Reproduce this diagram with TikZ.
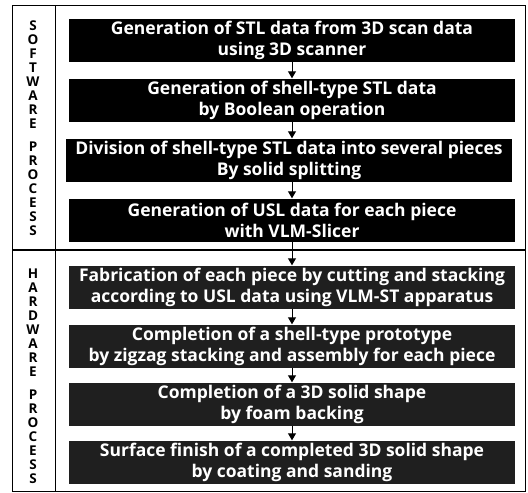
\documentclass[tikz,border=0pt]{standalone}
\usepackage{fontspec}
\setmainfont{Open Sans}
\usetikzlibrary{arrows.meta}
\begin{document}
\begin{tikzpicture}[x=1pt, y=-1pt]

\tikzstyle{sw} = [rectangle, fill=black, text=white, minimum width=446pt, minimum height=43pt, inner sep=2pt, align=center, font=\bfseries\fontsize{17.5}{21}\selectfont]
\tikzstyle{hw} = [sw, fill=black!88]
\tikzstyle{side} = [align=center, inner sep=0pt, font=\bfseries\fontsize{13.5}{14}\selectfont]
\tikzstyle{flow} = [-{Triangle[length=7pt,width=8pt]}, line width=1pt]

\useasboundingbox (0,0) rectangle (528,493);

% frame
\draw[line width=1pt] (12,5) rectangle (525,491);
\draw[line width=1pt] (55,5) -- (55,491);
\draw[line width=1.4pt] (12,250) -- (525,250);

\node[side] (sp) at (33,128) {S\\O\\F\\T\\W\\A\\R\\E\\[9pt]P\\R\\O\\C\\E\\S\\S};
\node[side] (hp) at (33,376) {H\\A\\R\\D\\W\\A\\R\\E\\[9pt]P\\R\\O\\C\\E\\S\\S};

\node[sw] (a) at (292,40) {Generation of STL data from 3D scan data\\using 3D scanner};
\node[sw] (b) at (292,100) {Generation of shell-type STL data\\by Boolean operation};
\node[sw] (c) at (289,160) {Division of shell-type STL data into several pieces\\By solid splitting};
\node[sw] (d) at (292,220) {Generation of USL data for each piece\\with VLM-Slicer};

\node[hw] (e) at (292,287) {Fabrication of each piece by cutting and stacking\\according to USL data using VLM-ST apparatus};
\node[hw] (f) at (292,346) {Completion of a shell-type prototype\\by zigzag stacking and assembly for each piece};
\node[hw] (g) at (292,404) {Completion of a 3D solid shape\\by foam backing};
\node[hw] (h) at (292,462) {Surface finish of a completed 3D solid shape\\by coating and sanding};

\draw[flow] (a) -- (b);
\draw[flow] (b) -- (b |- c.north);
\draw[flow] (b |- c.south) -- (d);
\draw[flow] (d) -- (e);
\draw[flow] (e) -- (f);
\draw[flow] (f) -- (g);
\draw[flow] (g) -- (h);
\end{tikzpicture}
\end{document}
